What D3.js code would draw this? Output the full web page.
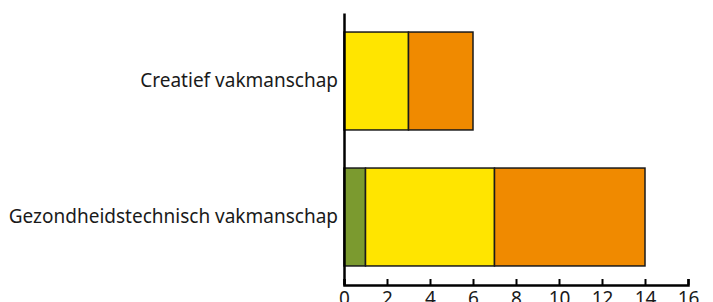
<!DOCTYPE html>
<html>
<head>
<meta charset="utf-8">
<script src="https://cdn.jsdelivr.net/npm/d3@7"></script>
<style>
  body { margin: 0; background: #fff; }
  text { font-family: "Noto Sans", sans-serif; fill: #1a1a1a; }
</style>
</head>
<body>
<div id="chart"></div>
<script>
// data
const categories = ["Creatief vakmanschap", "Gezondheidstechnisch vakmanschap"];
const seriesKeys = ["groen", "geel", "oranje"];
const groen = [0, 1];
const geel = [3, 6];
const oranje = [3, 7];
const xTicks = [0, 2, 4, 6, 8, 10, 12, 14, 16];
const colors = ["#7b9a2f", "#ffe500", "#f08a00"];

const width = 713, height = 302;
const margin = {top: 13, left: 344, right: 25, bottom: 17};

const svg = d3.select("#chart").append("svg")
    .attr("width", width)
    .attr("height", height);

const rows = categories.map((c, i) => ({cat: c, groen: groen[i], geel: geel[i], oranje: oranje[i]}));
const stacked = d3.stack().keys(seriesKeys)(rows);

const x = d3.scaleLinear().domain([0, 16]).range([margin.left, width - margin.right]);
const y = d3.scaleBand().domain(categories)
    .range([margin.top, height - margin.bottom])
    .paddingInner(0.28).paddingOuter(0.14);
const color = d3.scaleOrdinal().domain(seriesKeys).range(colors);

// bars
svg.append("g").selectAll("g")
    .data(stacked)
    .join("g")
    .attr("fill", d => color(d.key))
    .selectAll("rect")
    .data(d => d.filter(v => v[1] - v[0] > 0))
    .join("rect")
    .attr("x", d => x(d[0]))
    .attr("y", d => y(d.data.cat))
    .attr("width", d => x(d[1]) - x(d[0]))
    .attr("height", y.bandwidth())
    .attr("stroke", "#1a1a1a")
    .attr("stroke-width", 1.5);

// x axis
const axisY = height - margin.bottom;
const xAxis = svg.append("g")
    .attr("transform", `translate(0,${axisY})`)
    .call(d3.axisBottom(x).tickValues(xTicks).tickSize(-6).tickSizeOuter(-6).tickPadding(6));
xAxis.select(".domain").attr("stroke", "#000").attr("stroke-width", 2.5);
xAxis.selectAll(".tick line").attr("stroke", "#000").attr("stroke-width", 2);
xAxis.selectAll("text").attr("font-size", 19).attr("fill", "#1a1a1a")
    .attr("font-family", "Noto Sans, sans-serif");

// y axis
const yAxis = svg.append("g")
    .attr("transform", `translate(${margin.left},0)`)
    .call(d3.axisLeft(y).tickSize(0).tickPadding(6));
yAxis.select(".domain").attr("stroke", "#000").attr("stroke-width", 2.5);
yAxis.selectAll("text").attr("font-size", 19).attr("fill", "#1a1a1a")
    .attr("font-family", "Noto Sans, sans-serif");
</script>
</body>
</html>
